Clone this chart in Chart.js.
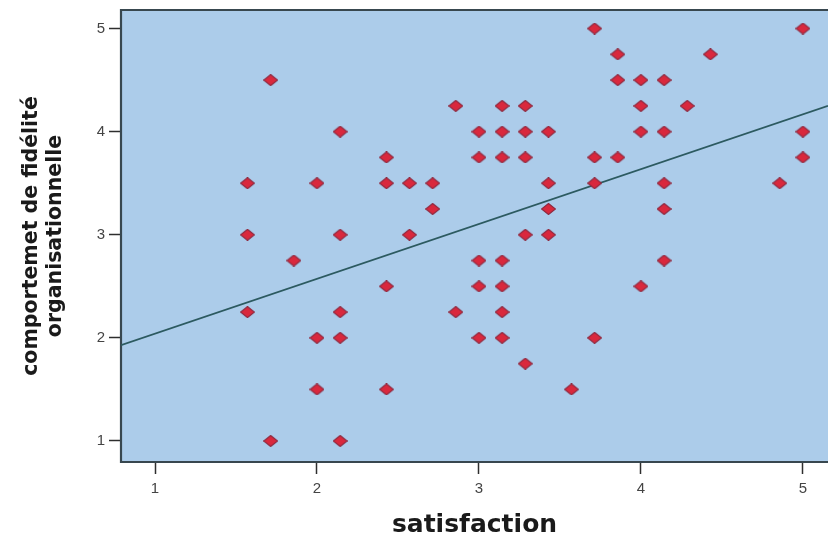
<!DOCTYPE html>
<html>
<head>
<meta charset="utf-8">
<script src="https://cdn.jsdelivr.net/npm/chart.js@4"></script>
<style>
  html, body { margin: 0; padding: 0; background: #ffffff; }
  #wrap { width: 828px; height: 538px; }
</style>
</head>
<body>
<div id="wrap"><canvas id="myChart" width="828" height="538"></canvas></div>
<script>
// satisfaction (x) et comportement de fidélité (y), une valeur par point
const satisfaction = [
  1.571, 1.571, 1.571,
  1.714, 1.714,
  1.857,
  2, 2, 2,
  2.143, 2.143, 2.143, 2.143, 2.143,
  2.429, 2.429, 2.429, 2.429,
  2.571, 2.571,
  2.714, 2.714,
  2.857, 2.857,
  3, 3, 3, 3, 3,
  3.143, 3.143, 3.143, 3.143, 3.143, 3.143, 3.143,
  3.286, 3.286, 3.286, 3.286, 3.286,
  3.429, 3.429, 3.429, 3.429,
  3.571,
  3.714, 3.714, 3.714, 3.714,
  3.857, 3.857, 3.857,
  4, 4, 4, 4,
  4.143, 4.143, 4.143, 4.143, 4.143,
  4.286,
  4.429,
  4.857,
  5, 5, 5
]
const fidelite = [
  3.5, 3, 2.25,
  4.5, 1,
  2.75,
  3.5, 2, 1.5,
  4, 3, 2.25, 2, 1,
  3.75, 3.5, 2.5, 1.5,
  3.5, 3,
  3.5, 3.25,
  4.25, 2.25,
  4, 3.75, 2.75, 2.5, 2,
  4.25, 4, 3.75, 2.75, 2.5, 2.25, 2,
  4.25, 4, 3.75, 3, 1.75,
  4, 3.5, 3.25, 3,
  1.5,
  5, 3.75, 3.5, 2,
  4.75, 4.5, 3.75,
  4.5, 4.25, 4, 2.5,
  4.5, 4, 3.5, 3.25, 2.75,
  4.25,
  4.75,
  3.5,
  5, 4, 3.75
]

// droite d'ajustement (extrémités)
const fitX = [0.79, 5.155]
const fitY = [1.93, 4.25]

const xTicks = [1, 2, 3, 4, 5]
const yTicks = [1, 2, 3, 4, 5]

const points = satisfaction.map((x, i) => ({ x: x, y: fidelite[i] }))
const fitLine = fitX.map((x, i) => ({ x: x, y: fitY[i] }))

// losange un peu aplati comme dans SPSS
const diamond = document.createElement('canvas')
diamond.width = 15
diamond.height = 12
const dc = diamond.getContext('2d')
dc.beginPath()
dc.moveTo(7.5, 0.5)
dc.lineTo(14.5, 6)
dc.lineTo(7.5, 11.5)
dc.lineTo(0.5, 6)
dc.closePath()
dc.fillStyle = '#d9283d'
dc.fill()
dc.strokeStyle = '#8e2a40'
dc.lineWidth = 1.2
dc.stroke()

// fond bleu et cadre de la zone de tracé
const plotFrame = {
  id: 'plotFrame',
  beforeDatasetsDraw(chart) {
    const { ctx, chartArea: a } = chart
    ctx.save()
    ctx.fillStyle = '#acccea'
    ctx.fillRect(a.left, a.top, a.right - a.left, a.bottom - a.top)
    ctx.strokeStyle = '#38474f'
    ctx.lineWidth = 2.2
    ctx.beginPath()
    ctx.moveTo(a.right + 2, a.top)
    ctx.lineTo(a.left, a.top)
    ctx.lineTo(a.left, a.bottom)
    ctx.lineTo(a.right + 2, a.bottom)
    ctx.stroke()
    ctx.restore()
  }
}

const ctx = document.getElementById('myChart').getContext('2d')
const myChart = new Chart(ctx, {
  type: 'scatter',
  data: {
    datasets: [
      {
        type: 'line',
        data: fitLine,
        borderColor: '#2c5a60',
        borderWidth: 1.8,
        pointRadius: 0,
        fill: false,
        order: 2,
      },
      {
        data: points,
        pointStyle: diamond,
        pointRadius: 7,
        order: 1,
      },
    ],
  },
  options: {
    responsive: false,
    animation: false,
    layout: { autoPadding: false, padding: { top: 10, right: 0, left: 0, bottom: 0 } },
    plugins: {
      legend: { display: false },
      tooltip: { enabled: false },
    },
    scales: {
      x: {
        type: 'linear',
        min: 0.79,
        max: 5.155,
        afterBuildTicks: (scale) => { scale.ticks = xTicks.map((v) => ({ value: v })) },
        afterFit: (scale) => {
          scale.height = 76
          scale.paddingLeft = 0
          scale.paddingRight = 0
        },
        border: { display: false },
        grid: { drawOnChartArea: false, drawTicks: true, tickLength: 12, tickColor: '#2e2e2e', tickWidth: 1.5 },
        ticks: { color: '#444', padding: 6, font: { family: 'Liberation Sans', size: 15 } },
        title: {
          display: true,
          text: 'satisfaction',
          color: '#1a1a1a',
          font: { family: 'DejaVu Sans', size: 25, weight: 'bold', lineHeight: 1 },
          padding: { top: 0, bottom: 0 },
        },
      },
      y: {
        min: 0.796,
        max: 5.18,
        afterBuildTicks: (scale) => { scale.ticks = yTicks.map((v) => ({ value: v })) },
        afterFit: (scale) => {
          scale.width = 121
          scale.paddingTop = 0
          scale.paddingBottom = 0
        },
        border: { display: false },
        grid: { drawOnChartArea: false, drawTicks: true, tickLength: 12, tickColor: '#2e2e2e', tickWidth: 1.5 },
        ticks: { color: '#444', padding: 4, font: { family: 'Liberation Sans', size: 15 } },
        title: {
          display: true,
          text: ['comportemet de fidélité', 'organisationnelle'],
          color: '#1a1a1a',
          font: { family: 'DejaVu Sans', size: 20.5, weight: 'bold', lineHeight: 1.2 },
          padding: { top: 19, bottom: 0 },
        },
      },
    },
  },
  plugins: [plotFrame],
})
</script>
</body>
</html>
